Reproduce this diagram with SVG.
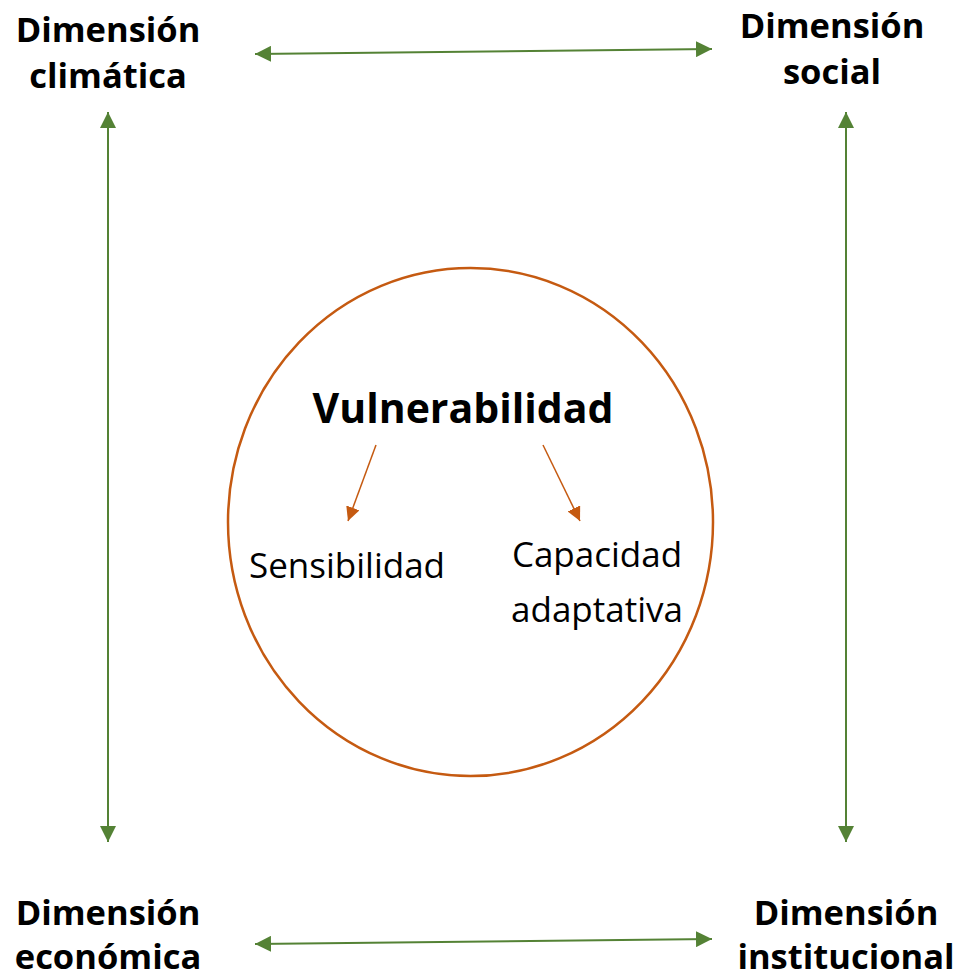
<svg xmlns="http://www.w3.org/2000/svg" width="959" height="979" viewBox="0 0 959 979">
<style>
.dim{font-family:"Open Sans","Noto Sans",sans-serif;font-weight:bold;font-size:34.5px;fill:#000;text-anchor:middle}
.in{font-family:"Open Sans","Noto Sans",sans-serif;font-size:35px;fill:#000;text-anchor:middle}
.g{stroke:#548235;stroke-width:2;fill:none}
.o{stroke:#C55A11;stroke-width:1.5;fill:none}
</style>
<defs>
<marker id="ga2" viewBox="0 0 10 10" refX="10" refY="5" markerWidth="16" markerHeight="16" markerUnits="userSpaceOnUse" orient="auto-start-reverse"><path d="M0,0 L10,5 L0,10 z" fill="#548235"/></marker>
<marker id="oa" viewBox="0 0 10 10" refX="10" refY="5" markerWidth="14" markerHeight="14" markerUnits="userSpaceOnUse" orient="auto"><path d="M0,0 L10,5 L0,10 z" fill="#C55A11"/></marker>
</defs>
<g id="n-climatica"><text class="dim" x="108" y="42">Dimensión</text><text class="dim" x="108" y="88">climática</text></g>
<g id="n-social"><text class="dim" x="832" y="38">Dimensión</text><text class="dim" x="832" y="84">social</text></g>
<g id="n-economica"><text class="dim" x="108" y="925">Dimensión</text><text class="dim" x="108" y="969">económica</text></g>
<g id="n-institucional"><text class="dim" x="846" y="925">Dimensión</text><text class="dim" x="846" y="969">institucional</text></g>
<g id="n-vulnerabilidad">
<ellipse cx="470.5" cy="522" rx="242.5" ry="254" fill="none" stroke="#C55A11" stroke-width="2.5"/>
<text x="463" y="423" style="font-family:'Open Sans','Noto Sans',sans-serif;font-weight:bold;font-size:41px;text-anchor:middle">Vulnerabilidad</text>
</g>
<g id="n-sensibilidad"><text class="in" x="347" y="578">Sensibilidad</text></g>
<g id="n-capacidad"><text class="in" x="597" y="567">Capacidad</text><text class="in" x="597" y="622">adaptativa</text></g>
<g id="connectors">
<line class="g" x1="255" y1="54" x2="712" y2="49" marker-start="url(#ga2)" marker-end="url(#ga2)"/>
<line class="g" x1="255" y1="944" x2="712" y2="939" marker-start="url(#ga2)" marker-end="url(#ga2)"/>
<line class="g" x1="108" y1="112" x2="108" y2="842" marker-start="url(#ga2)" marker-end="url(#ga2)"/>
<line class="g" x1="846" y1="112" x2="846" y2="842" marker-start="url(#ga2)" marker-end="url(#ga2)"/>
<line class="o" x1="376" y1="445" x2="348" y2="521" marker-end="url(#oa)"/>
<line class="o" x1="543" y1="445" x2="580" y2="521" marker-end="url(#oa)"/>
</g>
</svg>
